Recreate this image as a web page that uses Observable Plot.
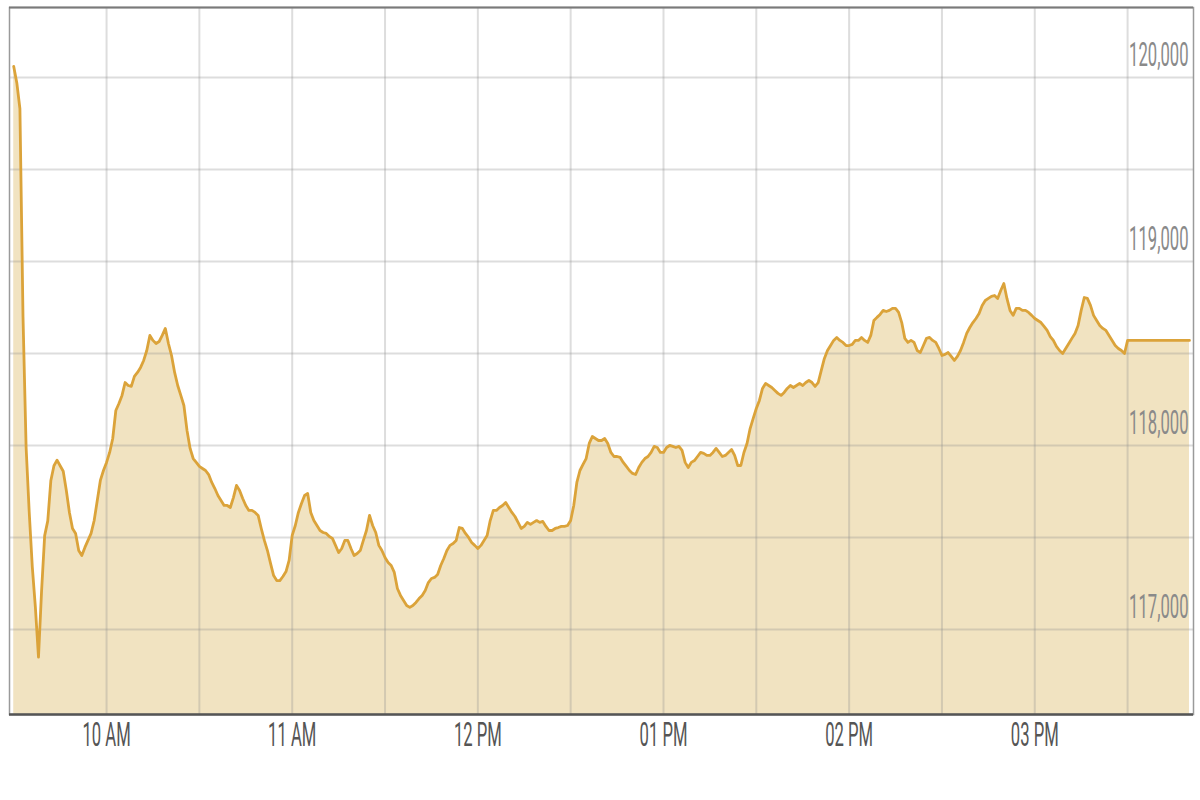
<!DOCTYPE html>
<html><head><meta charset="utf-8">
<script src="https://cdn.jsdelivr.net/npm/d3@7"></script>
<script src="https://cdn.jsdelivr.net/npm/@observablehq/plot@0.6"></script>
<style>
html,body{margin:0;padding:0;background:#fff;}
#chart{width:1200px;height:800px;}
</style></head><body><div id="chart"></div>
<script>
const times = [
"09:30","09:31","09:32","09:33","09:34","09:35","09:36","09:37","09:38","09:39","09:40","09:41","09:42","09:43","09:44","09:45","09:46","09:47","09:48","09:49","09:50","09:51","09:52","09:53","09:54","09:55","09:56","09:57","09:58","09:59",
"10:00","10:01","10:02","10:03","10:04","10:05","10:06","10:07","10:08","10:09","10:10","10:11","10:12","10:13","10:14","10:15","10:16","10:17","10:18","10:19","10:20","10:21","10:22","10:23","10:24","10:25","10:26","10:27","10:28","10:29",
"10:30","10:31","10:32","10:33","10:34","10:35","10:36","10:37","10:38","10:39","10:40","10:41","10:42","10:43","10:44","10:45","10:46","10:47","10:48","10:49","10:50","10:51","10:52","10:53","10:54","10:55","10:56","10:57","10:58","10:59",
"11:00","11:01","11:02","11:03","11:04","11:05","11:06","11:07","11:08","11:09","11:10","11:11","11:12","11:13","11:14","11:15","11:16","11:17","11:18","11:19","11:20","11:21","11:22","11:23","11:24","11:25","11:26","11:27","11:28","11:29",
"11:30","11:31","11:32","11:33","11:34","11:35","11:36","11:37","11:38","11:39","11:40","11:41","11:42","11:43","11:44","11:45","11:46","11:47","11:48","11:49","11:50","11:51","11:52","11:53","11:54","11:55","11:56","11:57","11:58","11:59",
"12:00","12:01","12:02","12:03","12:04","12:05","12:06","12:07","12:08","12:09","12:10","12:11","12:12","12:13","12:14","12:15","12:16","12:17","12:18","12:19","12:20","12:21","12:22","12:23","12:24","12:25","12:26","12:27","12:28","12:29",
"12:30","12:31","12:32","12:33","12:34","12:35","12:36","12:37","12:38","12:39","12:40","12:41","12:42","12:43","12:44","12:45","12:46","12:47","12:48","12:49","12:50","12:51","12:52","12:53","12:54","12:55","12:56","12:57","12:58","12:59",
"13:00","13:01","13:02","13:03","13:04","13:05","13:06","13:07","13:08","13:09","13:10","13:11","13:12","13:13","13:14","13:15","13:16","13:17","13:18","13:19","13:20","13:21","13:22","13:23","13:24","13:25","13:26","13:27","13:28","13:29",
"13:30","13:31","13:32","13:33","13:34","13:35","13:36","13:37","13:38","13:39","13:40","13:41","13:42","13:43","13:44","13:45","13:46","13:47","13:48","13:49","13:50","13:51","13:52","13:53","13:54","13:55","13:56","13:57","13:58","13:59",
"14:00","14:01","14:02","14:03","14:04","14:05","14:06","14:07","14:08","14:09","14:10","14:11","14:12","14:13","14:14","14:15","14:16","14:17","14:18","14:19","14:20","14:21","14:22","14:23","14:24","14:25","14:26","14:27","14:28","14:29",
"14:30","14:31","14:32","14:33","14:34","14:35","14:36","14:37","14:38","14:39","14:40","14:41","14:42","14:43","14:44","14:45","14:46","14:47","14:48","14:49","14:50","14:51","14:52","14:53","14:54","14:55","14:56","14:57","14:58","14:59",
"15:00","15:01","15:02","15:03","15:04","15:05","15:06","15:07","15:08","15:09","15:10","15:11","15:12","15:13","15:14","15:15","15:16","15:17","15:18","15:19","15:20","15:21","15:22","15:23","15:24","15:25","15:26","15:27","15:28","15:29",
"15:30","15:50"
];
const values = [
120060,119970,119830,118700,117990,117640,117340,117120,116850,117210,
117510,117590,117810,117890,117920,117890,117860,117755,117636,117549,
117522,117429,117402,117446,117484,117522,117592,117701,117810,117864,
117908,117962,118038,118190,118228,118272,118342,118326,118321,118375,
118397,118424,118462,118516,118598,118571,118554,118565,118598,118636,
118554,118489,118397,118326,118272,118217,118082,117984,117929,117908,
117886,117875,117864,117842,117799,117766,117728,117701,117674,117674,
117663,117717,117783,117755,117712,117674,117647,117647,117636,117620,
117549,117484,117429,117359,117293,117266,117266,117288,117315,117375,
117511,117565,117636,117685,117728,117739,117636,117592,117565,117538,
117527,117522,117505,117495,117457,117418,117440,117484,117484,117440,
117402,117413,117429,117484,117538,117620,117565,117527,117457,117429,
117391,117364,117348,117310,117223,117185,117158,117130,117120,117130,
117147,117168,117185,117212,117255,117277,117283,117299,117348,117386,
117429,117457,117467,117484,117554,117549,117522,117500,117473,117457,
117440,117457,117484,117511,117592,117647,117647,117663,117674,117690,
117663,117636,117614,117582,117549,117560,117582,117571,117582,117592,
117582,117587,117560,117538,117538,117549,117554,117560,117560,117565,
117592,117674,117799,117864,117897,117929,118011,118049,118038,118027,
118027,118038,118011,117962,117940,117940,117935,117908,117886,117864,
117848,117842,117880,117908,117929,117940,117962,117995,117989,117962,
117962,117989,118000,117995,117989,117995,117973,117908,117880,117908,
117918,117940,117962,117957,117946,117946,117962,117984,117962,117940,
117946,117962,117978,117946,117891,117891,117962,118011,118092,118147,
118201,118245,118310,118337,118326,118315,118299,118283,118272,118288,
118310,118326,118315,118326,118337,118326,118342,118353,118342,118321,
118342,118408,118473,118516,118543,118571,118587,118571,118560,118543,
118543,118549,118571,118571,118587,118571,118560,118598,118679,118696,
118712,118734,118728,118734,118745,118745,118723,118668,118582,118560,
118571,118560,118516,118505,118543,118582,118587,118571,118560,118527,
118489,118495,118505,118484,118462,118484,118516,118560,118609,118641,
118668,118690,118717,118761,118788,118799,118810,118815,118799,118842,
118880,118799,118734,118707,118745,118745,118734,118734,118723,118707,
118690,118679,118668,118647,118625,118592,118571,118538,118516,118500,
118527,118554,118582,118609,118652,118734,118804,118799,118761,118707,
118679,118652,118636,118625,118598,118571,118543,118527,118516,118500,
118571,118571
];
const yGridValues = [117000,117500,118000,118500,119000,119500,120000];
const yTickValues = [117000,118000,119000,120000];
const yTickLabels = ["117,000","118,000","119,000","120,000"];
const xGridTimes = ["10:00","10:30","11:00","11:30","12:00","12:30","13:00","13:30","14:00","14:30","15:00","15:30"];
const xTickTimes = ["10:00","11:00","12:00","13:00","14:00","15:00"];
const xTickLabels = ["10 AM","11 AM","12 PM","01 PM","02 PM","03 PM"];
const xDomain = ["09:28:38","15:51:18"];
const yDomain = [116538,120380];

const parse = s => { const [h,m,sec] = s.split(":").map(Number); return new Date(2024,0,2,h,m,sec||0); };
const data = times.map((t,i)=>({time: parse(t), value: values[i]}));

const plot = Plot.plot({
  width: 1200, height: 800,
  marginLeft: 9, marginRight: 7, marginTop: 7, marginBottom: 86,
  x: {type: "time", domain: xDomain.map(parse), axis: null},
  y: {domain: yDomain, axis: null},
  style: {background: "#fff"},
  marks: [
    Plot.areaY(data, {x: "time", y1: yDomain[0], y2: "value", fill: "#F1E3C1"}),
    Plot.ruleX(xGridTimes.map(parse), {stroke: "#8f8f8f", strokeOpacity: 0.3, strokeWidth: 2}),
    Plot.ruleY(yGridValues, {stroke: "#8f8f8f", strokeOpacity: 0.3, strokeWidth: 2}),
    Plot.lineY(data, {x: "time", y: "value", stroke: "#DBA33A", strokeWidth: 2.8}),
    Plot.frame({stroke: "#9a9a9a", strokeWidth: 1.5}),
    Plot.ruleY([yDomain[1]], {stroke: "#7a7a7a", strokeWidth: 2}),
    Plot.ruleY([yDomain[0]], {stroke: "#555", strokeWidth: 2.5}),
    Plot.text(yTickValues, {y: d => d, text: (d, i) => yTickLabels[i], frameAnchor: "right", dx: -5, dy: -22, textAnchor: "end", fill: "#8a8a8a", fontSize: 34, fontFamily: "Roboto"}),
    Plot.text(xTickTimes, {x: d => parse(d), text: (d, i) => xTickLabels[i], frameAnchor: "bottom", dy: 31.5, fill: "#555", fontSize: 34, fontFamily: "Roboto"})
  ]
});
document.getElementById("chart").append(plot);
// narrow the tall label glyphs horizontally, about each label's anchor
const k = 0.49;
plot.querySelectorAll('g[aria-label="text"] text').forEach(t => {
  const anchor = t.getAttribute("text-anchor") || t.parentNode.getAttribute("text-anchor") || "middle";
  const g = document.createElementNS("http://www.w3.org/2000/svg", "g");
  t.parentNode.insertBefore(g, t);
  g.appendChild(t);
  const b = g.getBBox();
  const ax = anchor === "end" ? b.x + b.width : anchor === "start" ? b.x : b.x + b.width / 2;
  g.setAttribute("transform", `translate(${ax},0) scale(${k},1) translate(${-ax},0)`);
});
</script>
</body></html>
